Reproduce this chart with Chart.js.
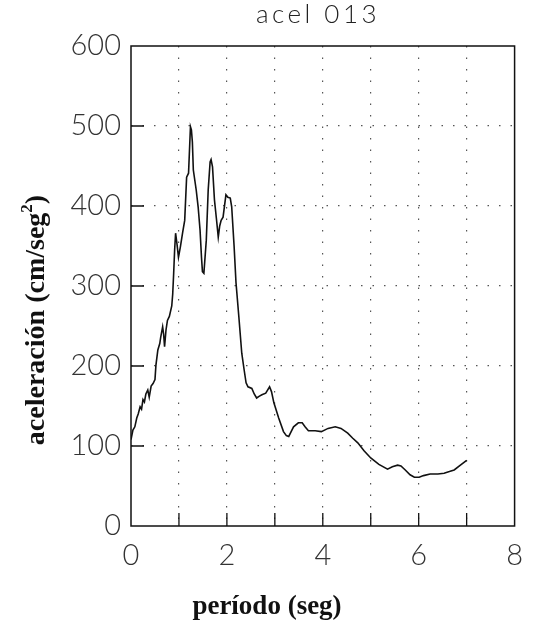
<!DOCTYPE html>
<html>
<head>
<meta charset="utf-8">
<script src="https://cdn.jsdelivr.net/npm/chart.js@4.4.1/dist/chart.umd.min.js"></script>
<style>
html,body{margin:0;padding:0;background:#fff;}
#wrap{width:535px;height:631px;position:relative;}
</style>
</head>
<body>
<div id="wrap"><canvas id="c" width="535" height="631"></canvas></div>
<script>
const periods = [0.00,0.04,0.08,0.12,0.15,0.19,0.22,0.25,0.28,0.31,0.35,0.38,0.42,0.46,0.50,0.52,0.56,0.60,0.62,0.66,0.68,0.70,0.73,0.76,0.80,0.85,0.87,0.89,0.91,0.93,0.96,0.99,1.03,1.08,1.12,1.16,1.20,1.22,1.24,1.26,1.28,1.30,1.36,1.40,1.44,1.47,1.49,1.52,1.57,1.61,1.65,1.67,1.70,1.74,1.78,1.82,1.85,1.88,1.92,1.98,2.02,2.07,2.10,2.15,2.19,2.25,2.31,2.36,2.40,2.44,2.52,2.57,2.62,2.67,2.73,2.81,2.89,2.93,2.98,3.08,3.18,3.24,3.29,3.34,3.39,3.49,3.57,3.63,3.70,3.84,3.97,4.11,4.26,4.38,4.52,4.62,4.73,4.86,5.00,5.17,5.35,5.45,5.56,5.63,5.72,5.82,5.91,6.01,6.10,6.24,6.40,6.53,6.64,6.74,6.87,7.00];
const accel = [108,120,124,135,140,149,146,158,155,165,170,161,175,178,183,201,220,228,236,249,240,224,245,257,262,275,290,316,345,366,352,336,349,368,382,436,441,470,499,495,480,445,420,399,370,336,318,316,357,420,455,458,449,408,385,361,375,382,386,414,411,410,399,350,304,261,216,195,179,174,172,165,160,162,164,166,174,168,154,135,118,113,112,118,124,129,129,124,119,119,118,122,124,122,116,110,104,94,85,77,71,74,76,75,70,64,61,61,63,65,65,66,68,70,76,82];
const xTicks = [0,1,2,3,4,5,6,7,8];
const xLabels = ['0','','2','','4','','6','','8'];
const yTicks = [0,100,200,300,400,500,600];
const titleText = 'acel 013';
const xTitleText = 'período (seg)';
const yTitleMain = 'aceleración (cm/seg';
const yTitleSup = '2';
const yTitleEnd = ')';

const tickFont = {family:'Lato, "DejaVu Sans", sans-serif', size:29, weight:300};

const framePlugin = {
  id:'frame',
  afterDraw(chart){
    const {ctx, chartArea:a, scales} = chart;
    ctx.save();
    ctx.strokeStyle = '#111';
    ctx.lineWidth = 1.5;
    ctx.strokeRect(a.left, a.top, a.right-a.left, a.bottom-a.top);
    ctx.lineWidth = 1.3;
    ctx.beginPath();
    xTicks.forEach(v=>{
      if(v===0||v===8) return;
      const px = scales.x.getPixelForValue(v);
      ctx.moveTo(px, a.bottom); ctx.lineTo(px, a.bottom-13);
    });
    yTicks.forEach(v=>{
      if(v===0||v===600) return;
      const py = scales.y.getPixelForValue(v);
      ctx.moveTo(a.left, py); ctx.lineTo(a.left+13, py);
    });
    ctx.stroke();
    // texts
    ctx.fillStyle = '#222';
    ctx.font = '300 26px Lato, "DejaVu Sans", sans-serif';
    ctx.textAlign = 'center';
    ctx.textBaseline = 'alphabetic';
    try{ ctx.letterSpacing = '3.5px'; }catch(e){}
    ctx.fillText(titleText, 318, 23);
    try{ ctx.letterSpacing = '0px'; }catch(e){}
    ctx.fillStyle = '#111';
    ctx.font = 'bold 27px "Liberation Serif", "Times New Roman", serif';
    ctx.fillText(xTitleText, 267, 614);
    // y title rotated
    ctx.save();
    ctx.translate(44, 320);
    ctx.rotate(-Math.PI/2);
    const f1 = 'bold 28px "Liberation Serif", "Times New Roman", serif';
    const f2 = 'bold 17px "Liberation Serif", "Times New Roman", serif';
    ctx.font = f1; const w1 = ctx.measureText(yTitleMain).width; const w3 = ctx.measureText(yTitleEnd).width;
    ctx.font = f2; const w2 = ctx.measureText(yTitleSup).width;
    const total = w1+w2+w3;
    let x0 = -total/2;
    ctx.textAlign = 'left';
    ctx.font = f1; ctx.fillText(yTitleMain, x0, 0);
    ctx.font = f2; ctx.fillText(yTitleSup, x0+w1, -12);
    ctx.font = f1; ctx.fillText(yTitleEnd, x0+w1+w2, 0);
    ctx.restore();
    ctx.restore();
  }
};

new Chart(document.getElementById('c'), {
  type:'scatter',
  data:{datasets:[{
    data: periods.map((p,i)=>({x:p, y:accel[i]})),
    showLine:true, borderColor:'#111', borderWidth:1.6, pointRadius:0, tension:0, fill:false
  }]},
  options:{
    responsive:false, animation:false,
    layout:{padding:{top:46, right:17, left:0, bottom:0}},
    plugins:{legend:{display:false}, tooltip:{enabled:false}, title:{display:false}},
    scales:{
      x:{type:'linear', min:0, max:8,
        afterFit(s){ s.height = 105; },
        afterBuildTicks(s){ s.ticks = xTicks.map(v=>({value:v})); },
        ticks:{font:tickFont, color:'#333', padding:12, maxRotation:0, autoSkip:false,
          callback:(v)=>{ const i = xTicks.indexOf(v); return i>=0 ? xLabels[i] : ''; }},
        grid:{drawTicks:false, lineWidth:1.2, color:(c)=> (c.tick && (c.tick.value===0||c.tick.value===8)) ? 'rgba(0,0,0,0)' : '#555'},
        border:{display:false, dash:[1.5,10]}
      },
      y:{type:'linear', min:0, max:600,
        afterFit(s){ s.width = 131; },
        afterBuildTicks(s){ s.ticks = yTicks.map(v=>({value:v})); },
        ticks:{font:tickFont, color:'#333', padding:10, autoSkip:false},
        grid:{drawTicks:false, lineWidth:1.2, color:(c)=> (c.tick && (c.tick.value===0||c.tick.value===600)) ? 'rgba(0,0,0,0)' : '#555'},
        border:{display:false, dash:[1.5,10]}
      }
    }
  },
  plugins:[framePlugin]
});
</script>
</body>
</html>
